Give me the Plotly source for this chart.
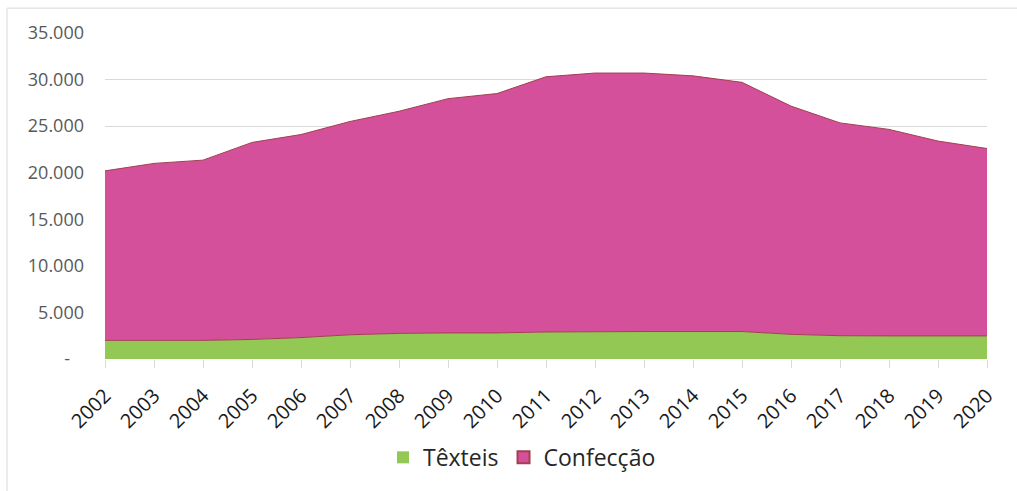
import plotly.graph_objects as go

# Annual values (stacked area)
years = [2002, 2003, 2004, 2005, 2006, 2007, 2008, 2009, 2010, 2011,
         2012, 2013, 2014, 2015, 2016, 2017, 2018, 2019, 2020]
texteis = [2000, 2000, 2000, 2100, 2300, 2600, 2750, 2800, 2800, 2900,
           2950, 2950, 2950, 2950, 2650, 2500, 2480, 2480, 2480]
confeccao = [18200, 19000, 19350, 21150, 21800, 22900, 23850, 25150, 25700, 27400,
             27750, 27750, 27450, 26750, 24500, 22850, 22170, 20920, 20120]

y_ticks = [0, 5000, 10000, 15000, 20000, 25000, 30000, 35000]
y_ticktext = ["-\u00a0\u00a0\u00a0", "5.000", "10.000", "15.000", "20.000",
              "25.000", "30.000", "35.000"]

W, H = 1017, 491
L, R, T, B = 105, 30, 33, 130
pw, ph = W - L - R, H - T - B

GREEN = "#92c853"
PINK = "#d4509b"
EDGE = "#a2404f"
GRID = "#d9d9d9"
FONT = "Open Sans"

fig = go.Figure()
fig.add_trace(go.Scatter(
    x=years, y=texteis, name="Têxteis", stackgroup="one",
    mode="lines", line=dict(color=EDGE, width=1), fillcolor=GREEN,
    showlegend=False,
))
fig.add_trace(go.Scatter(
    x=years, y=confeccao, name="Confecção", stackgroup="one",
    mode="lines", line=dict(color=EDGE, width=1), fillcolor=PINK,
    showlegend=False,
))
# legend swatches
fig.add_trace(go.Scatter(
    x=[None], y=[None], name="Têxteis", mode="markers",
    marker=dict(symbol="square", size=16, color=GREEN, line=dict(width=0)),
))
fig.add_trace(go.Scatter(
    x=[None], y=[None], name="Confecção", mode="markers",
    marker=dict(symbol="square", size=16, color=PINK, line=dict(color=EDGE, width=1)),
))


def px_x(p):
    return (p - L) / pw


def px_y(p):
    return (H - B - p) / ph


fig.update_layout(
    width=W, height=H,
    margin=dict(l=L, r=R, t=T, b=B),
    paper_bgcolor="white", plot_bgcolor="white",
    font=dict(family=FONT, size=18, color="#595959"),
    xaxis=dict(
        range=[2002, 2020], tickmode="array", tickvals=years,
        ticktext=[str(y) for y in years], tickangle=-45,
        tickfont=dict(size=20, color="#1a1a1a"),
        ticks="outside", ticklen=8, tickcolor=GRID,
        ticklabelstandoff=8,
        showgrid=False, zeroline=False, showline=False,
        fixedrange=True,
    ),
    yaxis=dict(
        range=[0, 35000], tickmode="array", tickvals=y_ticks,
        ticktext=y_ticktext, showgrid=True, gridcolor=GRID, gridwidth=1,
        zeroline=False, showline=False, ticklabelstandoff=20,
        tickfont=dict(size=18, color="#595959"),
    ),
    legend=dict(
        orientation="h", xanchor="center", yanchor="middle",
        x=px_x(522), y=px_y(460), traceorder="normal",
        font=dict(size=23, color="#262626"),
        itemsizing="constant", itemwidth=30,
    ),
    shapes=[
        dict(type="line", xref="paper", yref="paper",
             x0=px_x(7), x1=px_x(W + 5), y0=px_y(8), y1=px_y(8),
             line=dict(color=GRID, width=1)),
        dict(type="line", xref="paper", yref="paper",
             x0=px_x(7), x1=px_x(7), y0=px_y(8), y1=px_y(H + 5),
             line=dict(color=GRID, width=1)),
    ],
)

fig.write_html("out.html")
